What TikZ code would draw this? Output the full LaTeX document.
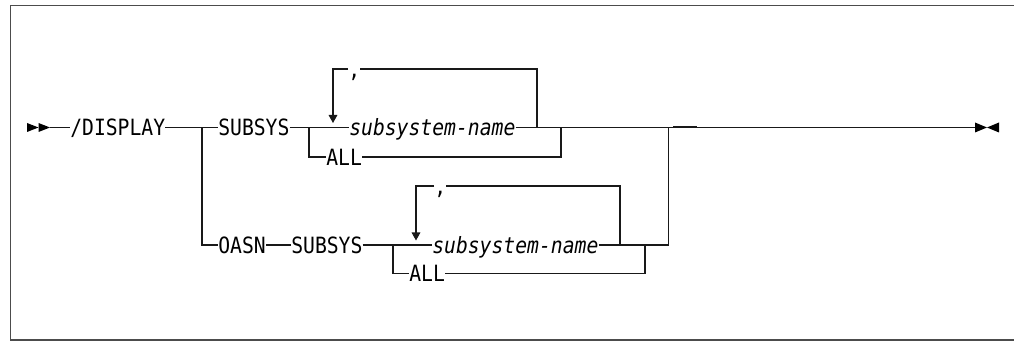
\documentclass[tikz,border=0pt]{standalone}
\usepackage{fontspec}
\newfontfamily\railfont[FakeStretch=0.88]{DejaVu Sans Mono}
\usepackage{tikz}
\usetikzlibrary{arrows.meta, positioning, calc}

\begin{document}
\begin{tikzpicture}[
    x=0.75pt, y=-0.75pt,
    font=\railfont\fontsize{16.8pt}{18pt}\selectfont,
    kw/.style={inner sep=0pt, anchor=west, text height=12.2pt, text depth=0pt},
    rail/.style={draw=black!90, line width=0.8pt},
    loopback/.style={rail, -{Triangle[length=6pt, width=6.5pt]}},
    endmark/.style={fill=black, draw=none},
    frame/.style={draw=black!70, line width=1.1pt}
]

\useasboundingbox (0,0) rectangle (1014,341);
\draw [frame] (1014,5.5) -- (10.5,5.5) -- (10.5,340) -- (1014,340);

% Nodes
\node (display) [kw] at (70,127.5) {/DISPLAY};
\node (subsys1) [kw] at (218,127.5) {SUBSYS};
\node (name1) [kw] at (349,127.5) {\itshape subsystem-name};
\node (comma1) [kw] at (348,69) {,};
\node (all1) [kw] at (326,157) {ALL};

\node (oasn) [kw] at (218,245) {OASN};
\node (subsys2) [kw] at (291,245) {SUBSYS};
\node (name2) [kw] at (432,245) {\itshape subsystem-name};
\node (comma2) [kw] at (434,186) {,};
\node (all2) [kw] at (409,273.5) {ALL};

\coordinate (start) at (50,127.5);
\coordinate (stop) at (975,127.5);
\coordinate (split) at (202,127.5);
\coordinate (fork1) at (309,127.5);
\coordinate (back1) at (333,123);
\coordinate (loop1) at (537,127.5);
\coordinate (join1) at (561,127.5);
\coordinate (join) at (668.5,127.5);
\coordinate (fork2) at (393,245);
\coordinate (back2) at (416,240.5);
\coordinate (loop2) at (620,245);
\coordinate (join2) at (645,245);

% Start and end marks
\fill [endmark] (27,123) -- (38.5,127.5) -- (27,132) -- cycle;
\fill [endmark] (38.5,123) -- (50,127.5) -- (38.5,132) -- cycle;
\fill [endmark] (975,122.5) -- (987,127.5) -- (975,132.5) -- cycle;
\fill [endmark] (999,122.5) -- (987,127.5) -- (999,132.5) -- cycle;

% Paths
\draw [rail] (start) -- (display);
\draw [rail] (display) -- (subsys1);
\draw [rail] (subsys1) -- (name1);
\draw [rail] (name1) -- (stop);
\draw [rail, line width=1.1pt] (673,126.8) -- (697,126.8);

\draw [rail] (split) |- (oasn);
\draw [rail] (fork1) |- (all1);
\draw [rail] (all1) -| (join1);
\draw [rail] (loop1) |- (comma1.east);
\draw [loopback] (comma1.west) -| (back1);

\draw [rail] (oasn) -- (subsys2);
\draw [rail] (subsys2) -- (name2);
\draw [rail] (name2) -| (join);
\draw [rail] (fork2) |- (all2);
\draw [rail] (all2) -| (join2);
\draw [rail] (loop2) |- (comma2.east);
\draw [loopback] (comma2.west) -| (back2);

\end{tikzpicture}
\end{document}
